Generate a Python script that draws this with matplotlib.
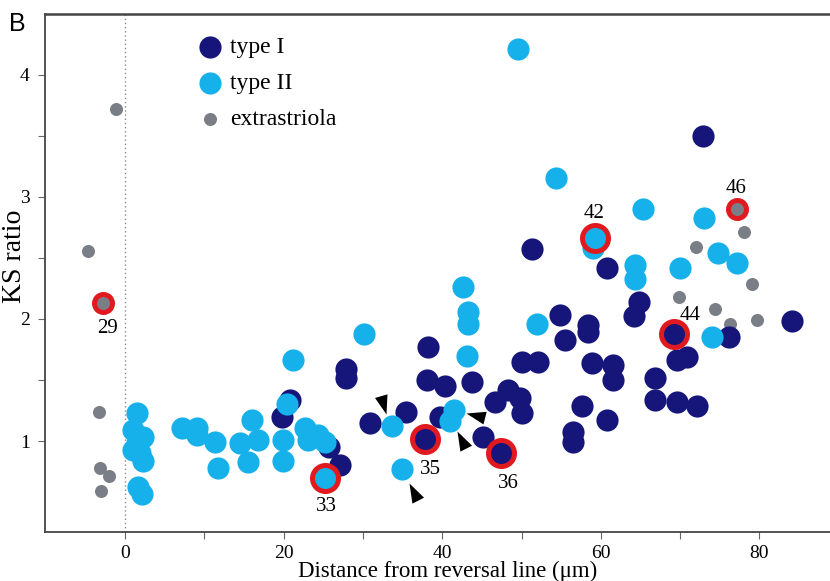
import numpy as np
import matplotlib.pyplot as plt
from matplotlib.path import Path

# --- data ---
# type I hair cells
type1_x = [72.9, 51.3, 60.8, 64.8, 64.2, 76.2, 84.1, 69.6, 70.9, 66.8, 66.8, 69.6, 72.1,
           61.5, 61.5, 60.8, 54.9, 55.5, 58.4, 58.4, 50.1, 52.1, 58.9, 43.8, 40.4, 48.3,
           49.8, 46.7, 50.1, 57.6, 56.5, 56.5, 45.1, 20.8, 19.8, 27.9, 27.9, 25.7, 27.1,
           30.9, 35.4, 38.2, 38.1, 39.7]
type1_y = [3.50, 2.57, 2.42, 2.14, 2.02, 1.85, 1.98, 1.66, 1.69, 1.52, 1.34, 1.32, 1.29,
           1.62, 1.50, 1.17, 2.03, 1.83, 1.95, 1.89, 1.65, 1.65, 1.64, 1.48, 1.45, 1.42,
           1.35, 1.32, 1.23, 1.29, 1.07, 0.99, 1.03, 1.34, 1.20, 1.59, 1.52, 0.95, 0.80,
           1.15, 1.24, 1.77, 1.50, 1.20]

# type II hair cells
type2_x = [49.6, 54.4, 59.0, 65.3, 64.3, 64.3, 70.0, 73.0, 74.8, 77.2, 74.0, 42.6, 43.3,
           43.3, 43.1, 52.0, 41.5, 41.0, 30.1, 21.2, 33.7, 34.9, 20.4, 22.7, 23.1, 24.3,
           25.2, 19.9, 19.9, 16.8, 16.0, 15.5, 14.5, 11.7, 11.3, 9.1, 9.1, 7.2, 1.5, 1.0,
           2.3, 1.5, 1.0, 1.9, 2.3, 1.6, 2.1]
type2_y = [4.21, 3.15, 2.58, 2.90, 2.44, 2.33, 2.42, 2.83, 2.54, 2.46, 1.85, 2.26, 2.06,
           1.96, 1.70, 1.96, 1.25, 1.16, 1.88, 1.66, 1.12, 0.77, 1.30, 1.11, 1.01, 1.05,
           0.99, 1.01, 0.84, 1.01, 1.17, 0.83, 0.98, 0.78, 0.99, 1.11, 1.05, 1.11, 1.23,
           1.09, 1.03, 0.98, 0.93, 0.90, 0.84, 0.62, 0.57]

# extrastriola
extra_x = [-4.7, -1.1, -3.3, -3.2, -2.0, -3.0, 78.1, 72.0, 79.1, 69.9, 74.4, 76.3, 79.7]
extra_y = [2.56, 3.72, 1.24, 0.78, 0.71, 0.59, 2.71, 2.59, 2.29, 2.18, 2.08, 1.96, 1.99]

# highlighted (numbered) cells
cell_ids = ["29", "33", "35", "36", "42", "44", "46"]
cell_x = [-2.8, 25.2, 37.8, 47.4, 59.3, 69.2, 77.2]
cell_y = [2.13, 0.70, 1.02, 0.90, 2.66, 1.88, 2.90]
cell_type = ["extra", "II", "I", "I", "II", "I", "extra"]

# arrowheads (tip position and pointing direction in degrees)
arrow_x = [32.9, 35.8, 43.0, 41.8]
arrow_y = [1.22, 0.66, 1.23, 1.08]
arrow_dir = [-74, 117, 166, 117]

# --- style ---
c_I = "#15157a"
c_II = "#16b1ea"
c_ex = "#7a7f87"
c_red = "#e01a1f"
serif = "Liberation Serif"

fig = plt.figure(figsize=(8.3, 5.81), dpi=100)
ax = fig.add_axes([45 / 830, 1 - 532 / 581, 785 / 830, 518 / 581])

ax.axvline(0, color="#8a8a8a", ls=(0, (1, 2)), lw=1.0, zorder=1)

h_ex = ax.scatter(extra_x, extra_y, s=88, color=c_ex, linewidths=0, zorder=2, label="extrastriola")
h_I = ax.scatter(type1_x, type1_y, s=255, color=c_I, linewidths=0, zorder=3, label="type I")
h_II = ax.scatter(type2_x, type2_y, s=255, color=c_II, linewidths=0, zorder=4, label="type II")

# red rings round the numbered cells
offsets = {"29": (3, -18), "33": (1, -21), "35": (4, -22), "36": (5, -22),
           "42": (-1, 18), "44": (12, 13), "46": (-1, 15)}
colmap = {"I": c_I, "II": c_II, "extra": c_ex}
for cid, x, y, t in zip(cell_ids, cell_x, cell_y, cell_type):
    if t == "extra":
        ax.scatter([x], [y], s=168, color=colmap[t], edgecolors=c_red, linewidths=3.6, zorder=6)
    else:
        ax.scatter([x], [y], s=350, color=colmap[t], edgecolors=c_red, linewidths=3.6, zorder=6)
    ax.annotate(cid, (x, y), xytext=offsets[cid], textcoords="offset points",
                ha="center", va="center", fontsize=15, family=serif, zorder=7)

# arrowheads
wedge = np.array([[0, 0], [-0.34, -1], [0.34, -1], [0, 0]])
for x, y, d in zip(arrow_x, arrow_y, arrow_dir):
    a = np.deg2rad(d - 90)
    rot = np.array([[np.cos(a), -np.sin(a)], [np.sin(a), np.cos(a)]])
    verts = wedge @ rot.T
    ax.plot([x], [y], marker=Path(verts, [Path.MOVETO, Path.LINETO, Path.LINETO, Path.CLOSEPOLY]),
            ms=29, color="black", mew=0, ls="none", zorder=8)

ax.set_xlim(-10.1, 88.9)
ax.set_ylim(0.255, 4.497)
ax.set_xticks([0, 20, 40, 60, 80])
ax.set_xticks([10, 30, 50, 70], minor=True)
ax.set_yticks([1, 2, 3, 4])
ax.set_yticks([1.5, 2.5, 3.5], minor=True)
ax.tick_params(which="both", direction="out", length=5, width=0.8, color="#666666", pad=6,
               labelsize=14)
ax.tick_params(axis="x", pad=4.5)
for lab in ax.get_xticklabels() + ax.get_yticklabels():
    lab.set_family(serif)

ax.spines["right"].set_visible(False)
ax.spines["top"].set_linewidth(1.8)
ax.spines["top"].set_color("#444444")
ax.spines["left"].set_linewidth(1.3)
ax.spines["left"].set_color("#444444")
ax.spines["bottom"].set_linewidth(1.3)
ax.spines["bottom"].set_color("#444444")

ax.set_xlabel("Distance from reversal line (μm)", fontsize=16.5, family=serif)
ax.xaxis.label.set_verticalalignment("baseline")
ax.xaxis.set_label_coords(0.513, -0.0875)
ax.set_ylabel("KS ratio", fontsize=20, family=serif)
ax.yaxis.set_label_coords(-0.023, 0.533)

ax.legend(handles=[h_I, h_II, h_ex], loc="upper left", bbox_to_anchor=(0.195, 0.957),
          frameon=False, prop={"family": serif, "size": 17}, handlelength=1.0,
          handletextpad=0.35, labelspacing=0.62, borderpad=0, borderaxespad=0, scatterpoints=1)

fig.text(17 / 830, 1 - 24 / 581, "B", ha="center", va="center", fontsize=18, family="Liberation Sans")

plt.savefig("out.png", dpi=100)
